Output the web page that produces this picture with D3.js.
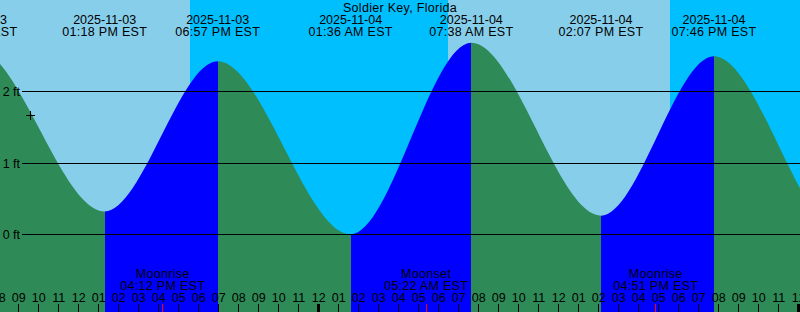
<!DOCTYPE html>
<html>
<head>
<meta charset="utf-8">
<script src="https://cdn.jsdelivr.net/npm/d3@7"></script>
<style>
  html, body { margin: 0; padding: 0; background: #fff; }
  svg { display: block; }
  text { font-family: "Liberation Sans", Arial, sans-serif; font-size: 12.5px; fill: #000; }
</style>
</head>
<body>
<script>
  // Station
  const stationName = "Soldier Key, Florida";

  // Tide extremes (local EST) and heights in feet
  const tideTimes = ["2025-11-03 00:30", "2025-11-03 06:50", "2025-11-03 13:18", "2025-11-03 18:57",
                     "2025-11-04 01:36", "2025-11-04 07:38", "2025-11-04 14:07", "2025-11-04 19:46",
                     "2025-11-05 02:15", "2025-11-05 08:30"];
  const tideHeights = [0.10, 2.60, 0.32, 2.42, 0.00, 2.68, 0.26, 2.49, -0.02, 2.70];

  // Sky: start of each day / night stretch
  const skyTimes = ["2025-11-03 08:04", "2025-11-03 17:34", "2025-11-04 06:28", "2025-11-04 17:34"];
  const skyIsDay = [true, false, true, false];

  // Moon events
  const moonTimes = ["2025-11-03 16:12", "2025-11-04 05:22", "2025-11-04 16:51"];
  const moonEvents = ["Moonrise", "Moonset", "Moonrise"];

  // Height grid lines (ft)
  const heightTicks = [0, 1, 2];

  // Time window shown
  const windowStart = "2025-11-03 08:04";
  const windowEnd = "2025-11-05 00:04";

  const width = 800;
  const height = 312;

  const parse = d3.timeParse("%Y-%m-%d %H:%M");
  const fmtDate = d3.timeFormat("%Y-%m-%d");
  const fmtTime = d3.timeFormat("%I:%M %p EST");
  const fmtHour = d3.timeFormat("%I");

  const tides = tideTimes.map((t, i) => ({ t: parse(t), h: tideHeights[i] }));
  const t0 = parse(windowStart), t1 = parse(windowEnd);

  const x = d3.scaleTime().domain([t0, t1]).range([0, width]);
  const y = d3.scaleLinear().domain([-1.087, 3.277]).range([height, 0]);

  const svg = d3.select("body")
    .append("svg")
    .attr("width", width)
    .attr("height", height);

  // Sky background
  svg.selectAll("rect.sky")
    .data(skyTimes)
    .enter()
    .append("rect")
    .attr("class", "sky")
    .attr("x", d => Math.round(x(parse(d))))
    .attr("y", 0)
    .attr("width", (d, i) => {
      const next = i + 1 < skyTimes.length ? parse(skyTimes[i + 1]) : t1;
      return Math.round(x(next)) - Math.round(x(parse(d)));
    })
    .attr("height", height)
    .attr("fill", (d, i) => skyIsDay[i] ? "#87ceeb" : "#00bfff")
    .attr("shape-rendering", "crispEdges");

  // Water: area under the tide curve, coloured by flood / ebb
  const area = d3.area()
    .x(d => x(d.t))
    .y0(height)
    .y1(d => y(d.h))
    .curve(d3.curveMonotoneX);

  svg.append("defs")
    .append("clipPath")
    .attr("id", "water")
    .append("path")
    .attr("d", area(tides));

  const segments = d3.pairs(tides);
  svg.append("g")
    .attr("clip-path", "url(#water)")
    .selectAll("rect")
    .data(segments)
    .enter()
    .append("rect")
    .attr("x", d => Math.round(x(d[0].t)))
    .attr("y", 0)
    .attr("width", d => Math.round(x(d[1].t)) - Math.round(x(d[0].t)))
    .attr("height", height)
    .attr("fill", d => d[1].h > d[0].h ? "#0000ff" : "#2e8b57")
    .attr("shape-rendering", "crispEdges");

  // Height lines and labels
  const grid = svg.selectAll("g.hgrid")
    .data(heightTicks)
    .enter()
    .append("g")
    .attr("class", "hgrid");

  grid.append("line")
    .attr("x1", 22)
    .attr("x2", width)
    .attr("y1", d => Math.round(y(d)) + 0.5)
    .attr("y2", d => Math.round(y(d)) + 0.5)
    .attr("stroke", "#000")
    .attr("stroke-width", 1);

  grid.append("text")
    .attr("x", 20)
    .attr("y", d => Math.round(y(d)) + 5)
    .attr("text-anchor", "end")
    .text(d => d + " ft");

  // Cross marker
  svg.append("path")
    .attr("d", "M26,115.5H35M30.5,111V120")
    .attr("stroke", "#000")
    .attr("stroke-width", 1)
    .attr("fill", "none");

  // Title
  svg.append("text")
    .attr("x", width / 2)
    .attr("y", 12)
    .attr("text-anchor", "middle")
    .attr("letter-spacing", "0.3px")
    .text(stationName);

  // High / low labels
  const tl = svg.selectAll("g.tlabel")
    .data(tides)
    .enter()
    .append("g")
    .attr("class", "tlabel");

  tl.append("text")
    .attr("x", d => x(d.t))
    .attr("y", 23.5)
    .attr("text-anchor", "middle")
    .text(d => fmtDate(d.t));

  tl.append("text")
    .attr("x", d => x(d.t))
    .attr("y", 36)
    .attr("text-anchor", "middle")
    .attr("letter-spacing", "0.3px")
    .text(d => fmtTime(d.t));

  // Moon labels
  const moons = moonTimes.map((t, i) => ({ t: parse(t), name: moonEvents[i] }));
  const ml = svg.selectAll("g.moon")
    .data(moons)
    .enter()
    .append("g")
    .attr("class", "moon");

  ml.append("text")
    .attr("x", d => x(d.t))
    .attr("y", 278)
    .attr("text-anchor", "middle")
    .attr("letter-spacing", "0.3px")
    .text(d => d.name);

  ml.append("text")
    .attr("x", d => x(d.t))
    .attr("y", 290)
    .attr("text-anchor", "middle")
    .attr("letter-spacing", "0.3px")
    .text(d => fmtTime(d.t));

  // Hour ticks along the bottom
  const hours = d3.timeHour.range(d3.timeHour.floor(t0), d3.timeHour.offset(t1, 1));

  svg.selectAll("text.hour")
    .data(hours)
    .enter()
    .append("text")
    .attr("class", "hour")
    .attr("x", d => x(d))
    .attr("y", 302)
    .attr("text-anchor", "middle")
    .text(d => fmtHour(d));

  svg.selectAll("line.hour")
    .data(hours)
    .enter()
    .append("line")
    .attr("class", "hour")
    .attr("x1", d => Math.floor(x(d)) + 0.5)
    .attr("x2", d => Math.floor(x(d)) + 0.5)
    .attr("y1", 304)
    .attr("y2", height)
    .attr("stroke", "#000")
    .attr("stroke-width", d => d.getHours() === 0 ? 3 : 1);

  // Moon event ticks
  svg.selectAll("line.moon")
    .data(moons)
    .enter()
    .append("line")
    .attr("class", "moon")
    .attr("x1", d => Math.floor(x(d.t)) + 0.5)
    .attr("x2", d => Math.floor(x(d.t)) + 0.5)
    .attr("y1", 304)
    .attr("y2", height)
    .attr("stroke", "#ff0000")
    .attr("stroke-width", 1);
</script>
</body>
</html>
